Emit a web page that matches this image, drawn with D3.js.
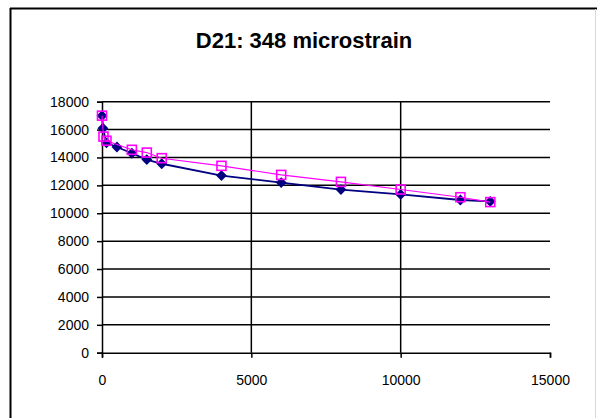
<!DOCTYPE html>
<html>
<head>
<meta charset="utf-8">
<script src="https://cdn.jsdelivr.net/npm/d3@7"></script>
<style>
  html, body { margin: 0; padding: 0; background: #fff; }
  svg { display: block; }
</style>
</head>
<body>
<svg id="chart" width="597" height="418"></svg>
<script>
const title = "D21: 348 microstrain";
const xTicks = [0, 5000, 10000, 15000];
const yTicks = [0, 2000, 4000, 6000, 8000, 10000, 12000, 14000, 16000, 18000];

const seriesAX = [0, 30, 150, 500, 1000, 1500, 2000, 4000, 6000, 8000, 10000, 12000, 13000];
const seriesAY = [17000, 16100, 15050, 14750, 14300, 13850, 13550, 12700, 12200, 11700, 11350, 10950, 10850];

const seriesBX = [0, 50, 150, 1000, 1500, 2000, 4000, 6000, 8000, 10000, 12000, 13000];
const seriesBY = [17000, 15500, 15200, 14550, 14350, 13950, 13400, 12750, 12250, 11700, 11150, 10800];

const svg = d3.select("#chart");
const W = 597, H = 418;
const plot = { left: 102, right: 550, top: 101.7, bottom: 352.7 };

const x = d3.scaleLinear().domain([0, 15000]).range([plot.left, plot.right]);
const y = d3.scaleLinear().domain([0, 18000]).range([plot.bottom, plot.top]);

// outer chart frame
svg.append("line").attr("x1", 10).attr("x2", 597).attr("y1", 8.5).attr("y2", 8.5)
  .attr("stroke", "#000").attr("stroke-width", 2);
svg.append("line").attr("x1", 10.5).attr("x2", 10.5).attr("y1", 8).attr("y2", H)
  .attr("stroke", "#000").attr("stroke-width", 2);
svg.append("line").attr("x1", 595.5).attr("x2", 595.5).attr("y1", 9).attr("y2", H)
  .attr("stroke", "#d8d8d8").attr("stroke-width", 1);

// title
svg.append("text").attr("x", 304).attr("y", 48)
  .attr("text-anchor", "middle")
  .attr("font-family", "'Liberation Sans Narrow', 'Arial Narrow', 'Liberation Sans', Arial, sans-serif")
  .attr("font-size", 22).attr("font-weight", "bold").attr("fill", "#000")
  .text(title);

// horizontal gridlines
svg.append("g").selectAll("line").data(yTicks.filter(d => d > 0)).join("line")
  .attr("x1", plot.left).attr("x2", plot.right)
  .attr("y1", d => y(d)).attr("y2", d => y(d))
  .attr("stroke", "#000").attr("stroke-width", 1.5);
// vertical gridlines
svg.append("g").selectAll("line").data(xTicks.filter(d => d > 0 && d < 15000)).join("line")
  .attr("x1", d => x(d)).attr("x2", d => x(d))
  .attr("y1", plot.top).attr("y2", plot.bottom)
  .attr("stroke", "#000").attr("stroke-width", 1.5);

// axes
const fmt = d3.format("d");
const yAxis = svg.append("g").attr("transform", `translate(${plot.left},0)`)
  .call(d3.axisLeft(y).tickValues(yTicks).tickFormat(fmt).tickSize(5).tickPadding(8));
const xAxis = svg.append("g").attr("transform", `translate(0,${plot.bottom})`)
  .call(d3.axisBottom(x).tickValues(xTicks).tickFormat(fmt).tickSize(5).tickPadding(17));
[yAxis, xAxis].forEach(a => {
  a.select(".domain").attr("stroke", "#000").attr("stroke-width", 1.5);
  a.selectAll(".tick line").attr("stroke", "#000").attr("stroke-width", 1.5);
  a.selectAll("text").attr("font-family", "'Liberation Sans', Arial, sans-serif")
    .attr("font-size", 14).attr("fill", "#000");
});

const dataA = seriesAX.map((v, i) => [v, seriesAY[i]]);
const dataB = seriesBX.map((v, i) => [v, seriesBY[i]]);
const line = d3.line().x(d => x(d[0])).y(d => y(d[1]));

// series A (navy diamonds)
svg.append("path").datum(dataA).attr("d", line)
  .attr("fill", "none").attr("stroke", "#000080").attr("stroke-width", 1.8);
svg.append("g").selectAll("path").data(dataA).join("path")
  .attr("transform", d => `translate(${x(d[0])},${y(d[1])})`)
  .attr("d", d3.symbol(d3.symbolDiamond2, 75)())
  .attr("fill", "#000080");

// series B (magenta hollow squares)
svg.append("path").datum(dataB).attr("d", line)
  .attr("fill", "none").attr("stroke", "#ff00ff").attr("stroke-width", 1.1);
svg.append("g").selectAll("rect").data(dataB).join("rect")
  .attr("x", d => x(d[0]) - 4.5).attr("y", d => y(d[1]) - 4.5)
  .attr("width", 9).attr("height", 9)
  .attr("fill", "none").attr("stroke", "#ff00ff").attr("stroke-width", 1.6);
</script>
</body>
</html>
